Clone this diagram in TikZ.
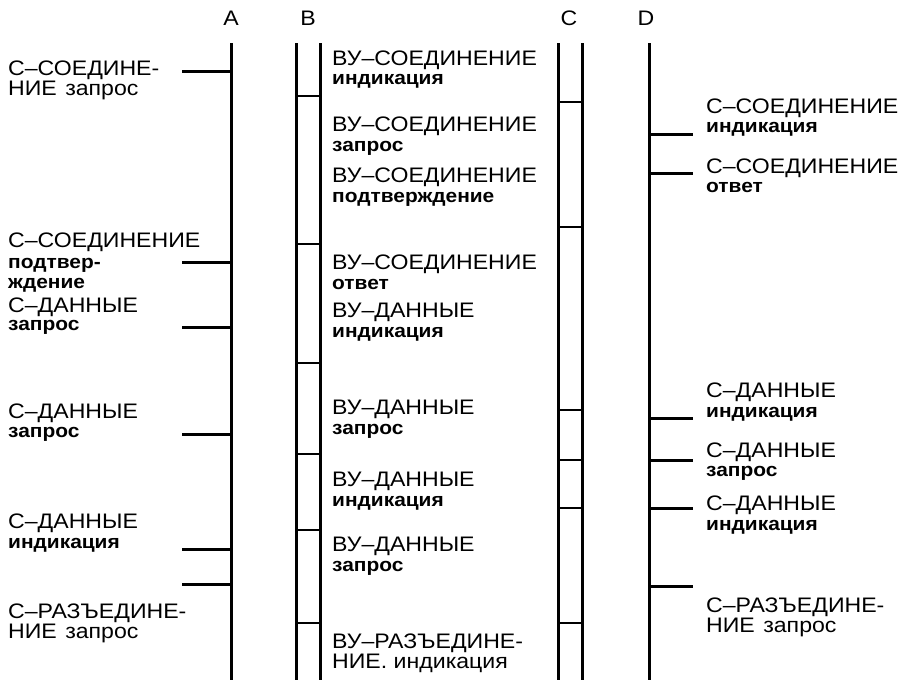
\documentclass[tikz,border=0pt]{standalone}
\usepackage{fontspec}
\setmainfont{Liberation Sans}[FakeStretch=1.1]
\usetikzlibrary{positioning}

\tikzset{
  lifeline/.style={line width=3pt},
  rung/.style={line width=2.2pt},
  tick/.style={line width=3pt},
  sigtitle/.style={font=\fontsize{21}{21}\selectfont, anchor=base west, inner sep=0pt},
  sigkind/.style={font=\fontsize{19}{19}\selectfont\bfseries, anchor=base west, inner sep=0pt},
  stationname/.style={font=\fontsize{21}{21}\selectfont, anchor=base, inner sep=0pt}
}

\begin{document}
\begin{tikzpicture}[x=1pt, y=-1pt]
\useasboundingbox (0,0) rectangle (918,683);

% --- Station names ---
\node[stationname] (nameA) at (231,25) {A};
\node[stationname] (nameB) at (308,25) {B};
\node[stationname] (nameC) at (569,25) {C};
\node[stationname] (nameD) at (646,25) {D};

% --- Time lines ---
\draw[lifeline] (231,43) -- (231,680);
\draw[lifeline] (296,43) -- (296,680);
\draw[lifeline] (320,43) -- (320,680);
\draw[lifeline] (558,43) -- (558,680);
\draw[lifeline] (582,43) -- (582,680);
\draw[lifeline] (649,43) -- (649,680);

% Ticks at A
\draw[tick] (182,71) -- (231,71);
\draw[tick] (182,262) -- (231,262);
\draw[tick] (182,327) -- (231,327);
\draw[tick] (182,434) -- (231,434);
\draw[tick] (182,549) -- (231,549);
\draw[tick] (182,584) -- (231,584);

% Rungs of B
\draw[rung] (296,96) -- (320,96);
\draw[rung] (296,244) -- (320,244);
\draw[rung] (296,363) -- (320,363);
\draw[rung] (296,454) -- (320,454);
\draw[rung] (296,530) -- (320,530);
\draw[rung] (296,623) -- (320,623);

% Rungs of C
\draw[rung] (558,102) -- (582,102);
\draw[rung] (558,227) -- (582,227);
\draw[rung] (558,410) -- (582,410);
\draw[rung] (558,460) -- (582,460);
\draw[rung] (558,508) -- (582,508);
\draw[rung] (558,623) -- (582,623);

% Ticks at D
\draw[tick] (649,134) -- (693,134);
\draw[tick] (649,173) -- (693,173);
\draw[tick] (649,418) -- (693,418);
\draw[tick] (649,460) -- (693,460);
\draw[tick] (649,508) -- (693,508);
\draw[tick] (649,586) -- (693,586);

% --- Primitives at A ---
\node[sigtitle] (aconreq) at (8,75) {С–СОЕДИНЕ-};
\node[sigtitle] (aconreq2) at (8,95) {НИЕ\hspace{2pt} запрос};
\node[sigtitle] (aconconf) at (8,247) {С–СОЕДИНЕНИЕ};
\node[sigkind] (aconconf2) at (8,268) {подтвер-};
\node[sigkind] (aconconf3) at (8,288) {ждение};
\node[sigtitle] (adatreq) at (8,312) {С–ДАННЫЕ};
\node[sigkind] (adatreq2) at (8,330) {запрос};
\node[sigtitle] (adatreqb) at (8,418) {С–ДАННЫЕ};
\node[sigkind] (adatreqb2) at (8,437) {запрос};
\node[sigtitle] (adatind) at (8,528) {С–ДАННЫЕ};
\node[sigkind] (adatind2) at (8,548) {индикация};
\node[sigtitle] (adisreq) at (8,618) {С–РАЗЪЕДИНЕ-};
\node[sigtitle] (adisreq2) at (8,638) {НИЕ\hspace{2pt} запрос};

% --- Primitives between B and C ---
\node[sigtitle] (bconind) at (332,65) {ВУ–СОЕДИНЕНИЕ};
\node[sigkind] (bconind2) at (332,84) {индикация};
\node[sigtitle] (cconreq) at (332,131) {ВУ–СОЕДИНЕНИЕ};
\node[sigkind] (cconreq2) at (332,151) {запрос};
\node[sigtitle] (cconconf) at (332,182) {ВУ–СОЕДИНЕНИЕ};
\node[sigkind] (cconconf2) at (332,202) {подтверждение};
\node[sigtitle] (bconresp) at (332,269) {ВУ–СОЕДИНЕНИЕ};
\node[sigkind] (bconresp2) at (332,289) {ответ};
\node[sigtitle] (bdatind) at (332,317) {ВУ–ДАННЫЕ};
\node[sigkind] (bdatind2) at (332,337) {индикация};
\node[sigtitle] (cdatreq) at (332,414) {ВУ–ДАННЫЕ};
\node[sigkind] (cdatreq2) at (332,434) {запрос};
\node[sigtitle] (bdatindb) at (332,486) {ВУ–ДАННЫЕ};
\node[sigkind] (bdatindb2) at (332,506) {индикация};
\node[sigtitle] (cdatreqb) at (332,551) {ВУ–ДАННЫЕ};
\node[sigkind] (cdatreqb2) at (332,571) {запрос};
\node[sigtitle] (bdisind) at (332,648) {ВУ–РАЗЪЕДИНЕ-};
\node[sigtitle] (bdisind2) at (332,668) {НИЕ. индикация};

% --- Primitives at D ---
\node[sigtitle] (dconind) at (706,113) {С–СОЕДИНЕНИЕ};
\node[sigkind] (dconind2) at (706,132) {индикация};
\node[sigtitle] (dconresp) at (706,173) {С–СОЕДИНЕНИЕ};
\node[sigkind] (dconresp2) at (706,192) {ответ};
\node[sigtitle] (ddatind) at (706,397) {С–ДАННЫЕ};
\node[sigkind] (ddatind2) at (706,417) {индикация};
\node[sigtitle] (ddatreq) at (706,457) {С–ДАННЫЕ};
\node[sigkind] (ddatreq2) at (706,476) {запрос};
\node[sigtitle] (ddatindb) at (706,510) {С–ДАННЫЕ};
\node[sigkind] (ddatindb2) at (706,530) {индикация};
\node[sigtitle] (ddisreq) at (706,612) {С–РАЗЪЕДИНЕ-};
\node[sigtitle] (ddisreq2) at (706,632) {НИЕ\hspace{2pt} запрос};

\end{tikzpicture}
\end{document}
